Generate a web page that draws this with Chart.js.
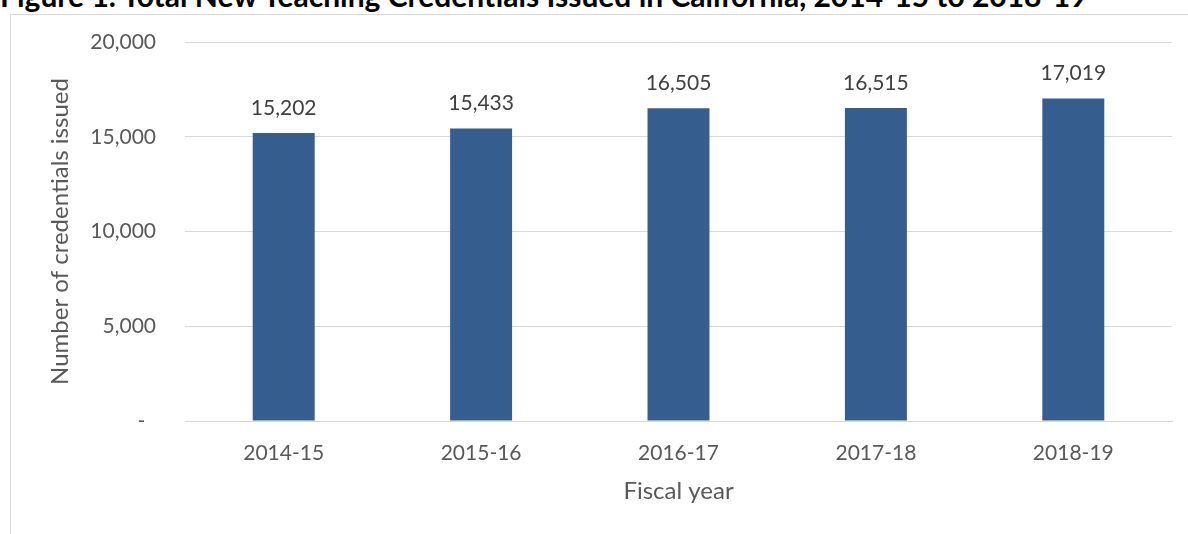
<!DOCTYPE html>
<html>
<head>
<meta charset="utf-8">
<script src="https://cdn.jsdelivr.net/npm/chart.js@4"></script>
<style>
  html, body { margin: 0; padding: 0; background: #fff; overflow: hidden; }
  #wrap { position: relative; width: 1188px; height: 534px; overflow: hidden; }
  #frame { position: absolute; left: 10px; top: 14px; width: 1200px; height: 600px;
           border-left: 1px solid #d9d9d9; border-top: 1px solid #d9d9d9; }
  #title { position: absolute; left: 0; top: -20px; font: bold 30px Lato, sans-serif;
           line-height: 30px; color: #000; white-space: nowrap; }
  canvas { position: absolute; left: 0; top: 0; }
</style>
</head>
<body>
<div id="wrap">
  <div id="frame"></div>
  <div id="title">Figure 1. Total New Teaching Credentials Issued in California, 2014-15 to 2018-19</div>
  <canvas id="chartKredensial" width="1188" height="534"></canvas>
</div>
<script>
const tahunFiskal = ['2014-15', '2015-16', '2016-17', '2017-18', '2018-19'];
const jumlahKredensial = [15202, 15433, 16505, 16515, 17019];
const tickY = [0, 5000, 10000, 15000, 20000];

// label angka di atas batang
const labelBatang = {
    id: 'labelBatang',
    afterDatasetsDraw(chart) {
        const ctx = chart.ctx;
        ctx.save();
        ctx.font = '21px Lato, sans-serif';
        ctx.fillStyle = '#404040';
        ctx.textAlign = 'center';
        ctx.textBaseline = 'middle';
        chart.getDatasetMeta(0).data.forEach(function (bar, i) {
            ctx.fillText(jumlahKredensial[i].toLocaleString('en-US'), bar.x, bar.y - 25);
        });
        ctx.restore();
    }
};

window.onload = function () {
    const ctx = document.getElementById('chartKredensial');
    new Chart(ctx.getContext('2d'), {
        type: 'bar',
        data: {
            labels: tahunFiskal,
            datasets: [{
                label: 'Number of credentials issued',
                data: jumlahKredensial,
                backgroundColor: '#355E8F',
                borderWidth: 0,
                barPercentage: 0.314,
                categoryPercentage: 1
            }]
        },
        options: {
            responsive: false,
            animation: false,
            layout: { padding: { top: 42, right: 16, left: 0, bottom: 0 } },
            plugins: {
                legend: { display: false },
                tooltip: { enabled: false }
            },
            scales: {
                x: {
                    grid: { display: false, drawTicks: false },
                    border: { display: true, color: '#d9d9d9' },
                    ticks: { color: '#595959', font: { family: 'Lato', size: 21 }, padding: 20 },
                    title: {
                        display: true, text: 'Fiscal year', color: '#595959',
                        font: { family: 'Lato', size: 24 }, padding: { top: 0, bottom: 28 }
                    },
                    afterFit: function (s) { s.height = 113; }
                },
                y: {
                    min: 0,
                    max: 20000,
                    afterBuildTicks: function (s) { s.ticks = tickY.map(v => ({ value: v })); },
                    grid: { color: '#d9d9d9', drawTicks: false },
                    border: { display: false },
                    ticks: {
                        color: '#595959', font: { family: 'Lato', size: 21 }, padding: 29,
                        callback: function (v) { return v === 0 ? '-  ' : v.toLocaleString('en-US'); }
                    },
                    title: {
                        display: true, text: 'Number of credentials issued', color: '#595959',
                        font: { family: 'Lato', size: 24 }, padding: { top: 46, bottom: 0 }
                    },
                    afterFit: function (s) { s.width = 185; }
                }
            }
        },
        plugins: [labelBatang]
    });
};
</script>
</body>
</html>
